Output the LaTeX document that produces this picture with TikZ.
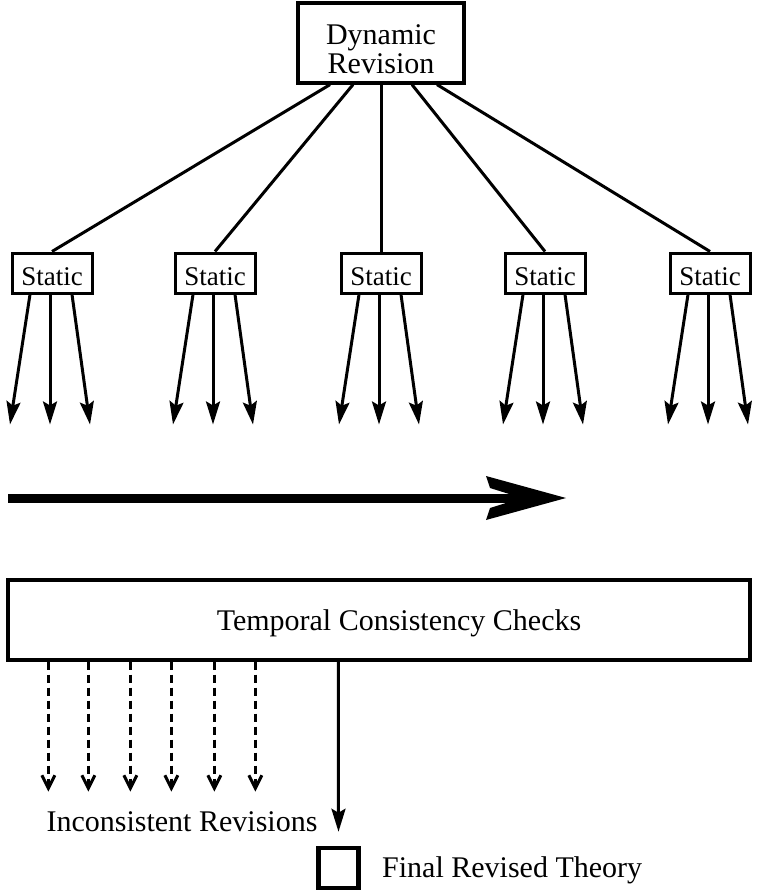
\documentclass[tikz,border=0pt]{standalone}
\usepackage{fontspec}
\setmainfont{Liberation Serif}
\usetikzlibrary{arrows.meta}
\begin{document}
\begin{tikzpicture}[x=1pt,y=-1pt,
  lbl/.style={font=\fontsize{30}{29}\selectfont, inner sep=0pt},
  box/.style={draw, line width=3.2pt, fill=white, inner sep=0pt},
  staticbox/.style={draw, line width=3pt, minimum width=80pt, minimum height=40pt, inner sep=0pt},
  link/.style={line width=3pt},
  sarrow/.style={line width=3pt, -{Stealth[length=23pt,width=14pt,inset=4pt]}},
  darrow/.style={line width=3pt, dash pattern=on 8pt off 5pt, -{Straight Barb[length=13pt,width=13pt]}},
]
\useasboundingbox (0,0) rectangle (757,893);
\node[box, minimum width=166pt, minimum height=80pt] (dyn) at (381,43) {};
\node[lbl, align=center] (dyntxt) at (381,49) {Dynamic\\Revision};
\foreach \i/\x in {1/52,2/215,3/381,4/545,5/710}{
  \node[staticbox] (s\i) at (\x,273) {};
  \node[font=\fontsize{27}{27}\selectfont, inner sep=0pt] (st\i) at (\x,277) {Static};
}
\draw[link] ([xshift=-51pt]dyn.south) -- (s1.north);
\draw[link] ([xshift=-28pt]dyn.south) -- (s2.north);
\draw[link] (dyn.south) -- (s3.north);
\draw[link] ([xshift=31pt]dyn.south) -- (s4.north);
\draw[link] ([xshift=56pt]dyn.south) -- (s5.north);
\foreach \i in {1,...,5}{
  \draw[sarrow] ([xshift=-22pt]s\i.south) -- ++(-20,130);
  \draw[sarrow] ([xshift=-2pt]s\i.south) -- ++(0,130);
  \draw[sarrow] ([xshift=20pt]s\i.south) -- ++(18,130);
}
% big time arrow
\coordinate (ta) at (8,498);
\coordinate (tb) at (522,498);
\draw[line width=9pt] (ta) -- (tb);
\fill (486,476) -- (566,498) -- (486,520) -- (490,508) -- (522,498) -- (490,488) -- cycle;
% temporal box
\node[box, minimum width=742pt, minimum height=80pt] (tcc) at (379,620) {};
\node[lbl] (tcctxt) at (399,623) {Temporal Consistency Checks};
\foreach \dx in {42,82,124,165,208,249}{
  \draw[darrow] ([xshift=\dx pt]tcc.south west) -- ++(0,130);
}
\node[lbl] (inc) at (182,822) {Inconsistent Revisions};
\node[draw, line width=4.5pt, minimum size=40pt, inner sep=0pt] (fin) at (338.5,868) {};
\draw[line width=3pt, -{Stealth[length=23pt,width=14pt,inset=4pt]}] ([xshift=332pt]tcc.south west) -- ([yshift=14pt]fin.north);
\node[lbl, anchor=west] (fint) at (382,870) {Final Revised Theory};
\end{tikzpicture}
\end{document}
